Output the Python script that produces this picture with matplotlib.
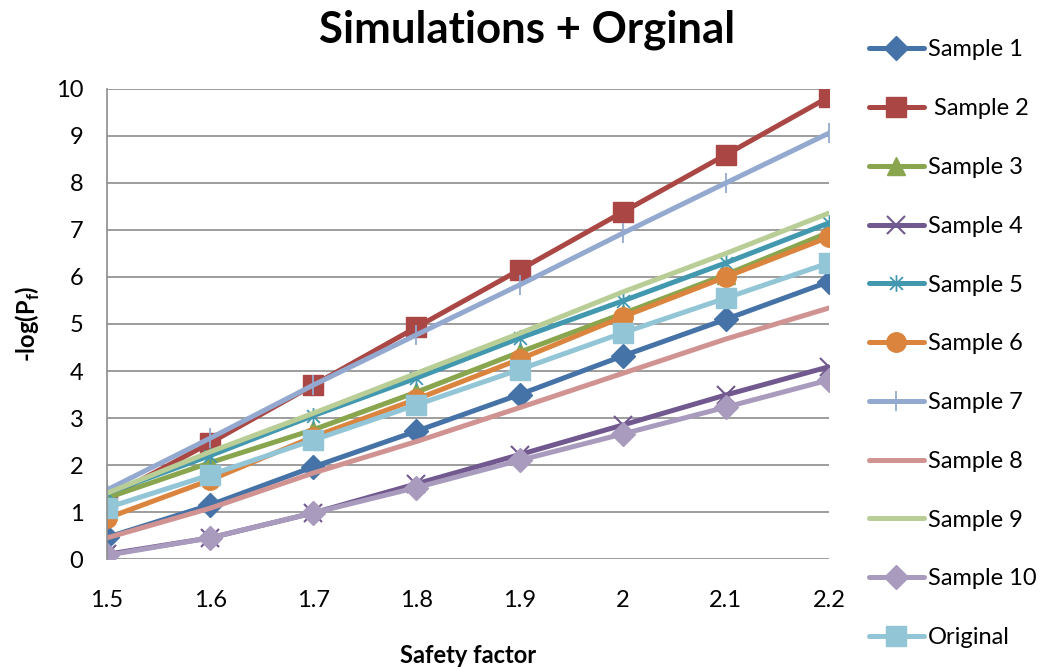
import matplotlib
matplotlib.use("Agg")
import matplotlib.pyplot as plt
from matplotlib.path import Path

plt.rcParams['font.family'] = ['Lato', 'DejaVu Sans']
plt.rcParams['mathtext.fontset'] = 'custom'
plt.rcParams['mathtext.bf'] = 'Lato:bold'
plt.rcParams['mathtext.rm'] = 'Lato'

safety_factor = [1.5, 1.6, 1.7, 1.8, 1.9, 2.0, 2.1, 2.2]
x_tick_labels = ["1.5", "1.6", "1.7", "1.8", "1.9", "2", "2.1", "2.2"]

sample_1 = [0.46, 1.15, 1.96, 2.72, 3.50, 4.32, 5.10, 5.90]
sample_2 = [1.30, 2.47, 3.70, 4.93, 6.15, 7.38, 8.60, 9.83]
sample_3 = [1.30, 2.05, 2.75, 3.55, 4.40, 5.22, 6.05, 6.95]
sample_4 = [0.10, 0.45, 0.98, 1.60, 2.22, 2.85, 3.49, 4.09]
sample_5 = [1.40, 2.20, 3.05, 3.85, 4.70, 5.49, 6.30, 7.15]
sample_6 = [0.87, 1.68, 2.60, 3.40, 4.25, 5.15, 6.00, 6.85]
sample_7 = [1.47, 2.57, 3.70, 4.77, 5.83, 6.93, 8.00, 9.06]
sample_8 = [0.45, 1.08, 1.83, 2.50, 3.22, 3.95, 4.68, 5.34]
sample_9 = [1.40, 2.28, 3.10, 3.95, 4.80, 5.68, 6.50, 7.36]
sample_10 = [0.08, 0.45, 0.98, 1.52, 2.10, 2.66, 3.23, 3.81]
original = [1.09, 1.79, 2.53, 3.28, 4.03, 4.81, 5.55, 6.30]

labels = ["Sample 1", " Sample 2", "Sample 3", "Sample 4", "Sample 5", "Sample 6",
          "Sample 7", "Sample 8", "Sample 9", "Sample 10", "Original"]
series = [sample_1, sample_2, sample_3, sample_4, sample_5, sample_6,
          sample_7, sample_8, sample_9, sample_10, original]
colors = ["#4572A7", "#AA4643", "#89A54E", "#71588F", "#4198AF", "#DB843D",
          "#93A9CF", "#D19392", "#B9CD96", "#A99BBD", "#92C5D6"]

star = Path([(-1, -1), (1, 1), (-1, 1), (1, -1), (0, -1.3), (0, 1.3)],
            [Path.MOVETO, Path.LINETO, Path.MOVETO, Path.LINETO, Path.MOVETO, Path.LINETO])

styles = [
    dict(marker='D', ms=12),
    dict(marker='s', ms=14),
    dict(marker='^', ms=13),
    dict(marker='x', ms=13, mew=1.5),
    dict(marker=star, ms=12, mew=1.3),
    dict(marker='o', ms=14),
    dict(marker='|', ms=15, mew=1.3),
    dict(marker='None'),
    dict(marker='None'),
    dict(marker='D', ms=12),
    dict(marker='s', ms=14),
]

fig = plt.figure(figsize=(10.44, 6.69), dpi=100)
ax = fig.add_axes([0.1025, 0.1644, 0.6915, 0.7026])

for lab, ys, c, st in zip(labels, series, colors, styles):
    ax.plot(safety_factor, ys, color=c, lw=3.6, label=lab, mfc=c, mec=c,
            solid_capstyle='round', **st)

ax.set_xlim(1.5, 2.2)
ax.set_ylim(0, 10)
ax.set_xticks(safety_factor)
ax.set_xticklabels(x_tick_labels)
ax.set_yticks(range(0, 11))
ax.tick_params(axis='both', length=0, labelsize=17)
ax.tick_params(axis='x', pad=22)
ax.tick_params(axis='y', pad=17)
ax.yaxis.grid(True, color='#8c8c8c', lw=1.2)
ax.set_axisbelow(True)
for s in ['top', 'right', 'bottom']:
    ax.spines[s].set_visible(False)
ax.spines['left'].set_color('#8c8c8c')
ax.spines['left'].set_linewidth(1.2)

ax.set_xlabel("Safety factor", fontsize=17, fontweight='bold', labelpad=24)
ax.set_ylabel(r"-log(P$_\mathbf{f}$)", fontsize=17, fontweight='bold', labelpad=10)
fig.text(0.505, 1 - 43 / 669, "Simulations + Orginal", ha='center', va='baseline',
         fontsize=31.5, fontweight='bold')

leg = fig.legend(loc='upper left', bbox_to_anchor=(0.832, 0.941), frameon=False,
                 fontsize=17, labelspacing=1.6, handlelength=2.33, handletextpad=0.17,
                 borderaxespad=0, borderpad=0)

fig.savefig("out.png", dpi=100)
